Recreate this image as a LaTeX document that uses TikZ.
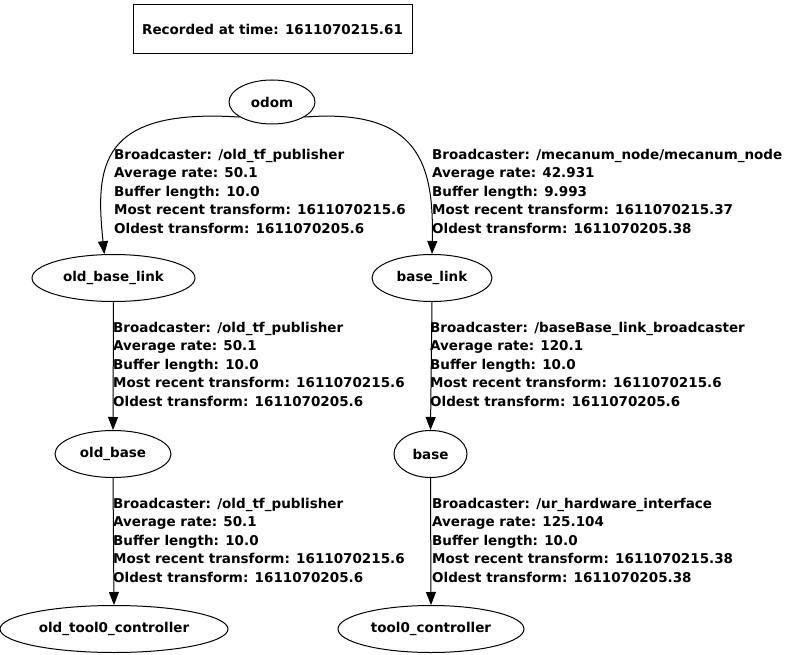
\documentclass[tikz,border=0pt]{standalone}
\usepackage{fontspec}
\setmainfont{DejaVu Sans}
\usetikzlibrary{shapes.geometric,arrows.meta}
\begin{document}
\begin{tikzpicture}[x=1pt,y=-1pt,
  every node/.style={font=\fontsize{13.5}{18.5}\selectfont\bfseries},
  frame/.style={ellipse,draw,line width=1pt,inner sep=0pt,minimum height=47pt},
  stamp/.style={rectangle,draw,line width=1pt,inner sep=0pt,minimum width=279pt,minimum height=49pt},
  info/.style={anchor=west,align=left,inner sep=0pt},
  tf/.style={draw,line width=1pt,-{Triangle[length=13pt,width=10pt]}}]
\useasboundingbox (0,0) rectangle (787,655);

% header
\node[stamp] (stamp) at (272.5,29.5) {Recorded at time: 1611070215.61};

% coordinate frames
\node[frame,minimum width=86pt,minimum height=44pt] (odom) at (272,102) {odom};
\node[frame,minimum width=163pt] (oldbaselink) at (113.5,278) {old\_base\_link};
\node[frame,minimum width=120pt] (baselink) at (432,278) {base\_link};
\node[frame,minimum width=116pt] (oldbase) at (113,454) {old\_base};
\node[frame,minimum width=73pt] (base) at (430.5,454) {base};
\node[frame,minimum width=228pt] (oldtool) at (114,629) {old\_tool0\_controller};
\node[frame,minimum width=186pt] (tool) at (431,629) {tool0\_controller};

% transforms
\draw[tf] (odom.205) .. controls (100,108) and (95,165) .. (oldbaselink.111);
\draw[tf] (odom.335) .. controls (420,108) and (434,165) .. (baselink.north);
\draw[tf] (oldbaselink.south) -- (oldbase.north);
\draw[tf] (baselink.south) -- (base.north);
\draw[tf] (oldbase.south) -- (oldtool.north);
\draw[tf] (base.south) -- (tool.north);

% transform details
\node[info] (lbl1) at (114,191) {Broadcaster: /old\_tf\_publisher\\Average rate: 50.1\\Buffer length: 10.0\\Most recent transform: 1611070215.6\\Oldest transform: 1611070205.6};
\node[info] (lbl2) at (432,191) {Broadcaster: /mecanum\_node/mecanum\_node\\Average rate: 42.931\\Buffer length: 9.993\\Most recent transform: 1611070215.37\\Oldest transform: 1611070205.38};
\node[info] (lbl3) at (113,364) {Broadcaster: /old\_tf\_publisher\\Average rate: 50.1\\Buffer length: 10.0\\Most recent transform: 1611070215.6\\Oldest transform: 1611070205.6};
\node[info] (lbl4) at (430,364) {Broadcaster: /baseBase\_link\_broadcaster\\Average rate: 120.1\\Buffer length: 10.0\\Most recent transform: 1611070215.6\\Oldest transform: 1611070205.6};
\node[info] (lbl5) at (113,540) {Broadcaster: /old\_tf\_publisher\\Average rate: 50.1\\Buffer length: 10.0\\Most recent transform: 1611070215.6\\Oldest transform: 1611070205.6};
\node[info] (lbl6) at (432,540) {Broadcaster: /ur\_hardware\_interface\\Average rate: 125.104\\Buffer length: 10.0\\Most recent transform: 1611070215.38\\Oldest transform: 1611070205.38};
\end{tikzpicture}
\end{document}
